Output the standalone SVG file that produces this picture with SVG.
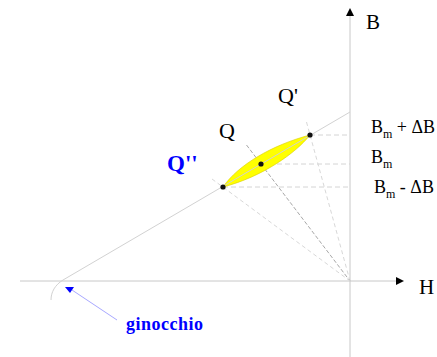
<svg xmlns="http://www.w3.org/2000/svg" width="437" height="357" viewBox="0 0 437 357">
<style>
.axis{stroke:#c8c8c8;stroke-width:1;fill:none}
.curve{stroke:#d2d2d2;stroke-width:1;fill:none}
.hd{stroke:#d4d4d4;stroke-width:1;stroke-dasharray:5,3;fill:none}
.rl{stroke:#d8d8d8;stroke-width:1;stroke-dasharray:4,3;fill:none}
.rd{stroke:#a8a8a8;stroke-width:1;stroke-dasharray:4,2;fill:none}
.lbl{font-family:"Liberation Serif","Times New Roman",serif;fill:#000}
.blue{fill:#0000ff;font-weight:bold}
</style>
<rect width="437" height="357" fill="#ffffff"/>
<g id="axes">
<line class="axis" x1="20" y1="281" x2="397" y2="281"/>
<polygon points="396,277 404,281 396,285" fill="#000"/>
<line class="axis" x1="350" y1="357" x2="350" y2="15"/>
<polygon points="346,16 350,8 354,16" fill="#000"/>
<text class="lbl" x="419" y="294" font-size="21">H</text>
<text class="lbl" x="366" y="29" font-size="21">B</text>
</g>
<g id="connectors">
<line class="hd" x1="310" y1="135" x2="350" y2="135"/>
<line class="hd" x1="261" y1="164" x2="350" y2="164"/>
<line class="hd" x1="223" y1="187" x2="350" y2="187"/>
<line class="rl" x1="306.5" y1="122" x2="350" y2="281"/>
<line class="rd" x1="246.5" y1="145" x2="350" y2="281"/>
<line class="rl" x1="212" y1="179" x2="350" y2="281"/>
<line x1="117" y1="320" x2="72" y2="290" stroke="#a8a8ff" stroke-width="1"/>
<polygon points="65,287 74,287 70,293" fill="#0000ff"/>
</g>
<g id="loop">
<path d="M223,187 C238,165 272,145 310,135 C296,153 262,177 223,187 Z" fill="#ffff00" stroke="#d8cc00" stroke-width="0.6"/>
</g>
<g id="curve">
<path class="curve" d="M51,300 C51,292 55,285 63,280 L350,112"/>
</g>
<g id="points">
<circle cx="223" cy="187" r="2.6" fill="#111"/>
<circle cx="261" cy="164" r="2.6" fill="#111"/>
<circle cx="310" cy="135" r="2.6" fill="#111"/>
</g>
<g id="labels">
<text class="lbl" x="219" y="138" font-size="22">Q</text>
<text class="lbl" x="278" y="103" font-size="22">Q'</text>
<text class="lbl blue" x="167" y="171" font-size="23">Q''</text>
<text class="lbl" x="371" y="133" font-size="18">B<tspan font-size="12" dy="5">m</tspan><tspan dy="-5"> + ΔB</tspan></text>
<text class="lbl" x="371" y="163" font-size="18">B<tspan font-size="12" dy="5">m</tspan></text>
<text class="lbl" x="374" y="193" font-size="18">B<tspan font-size="12" dy="5">m</tspan><tspan dy="-5"> - ΔB</tspan></text>
<text class="lbl blue" x="126" y="330" font-size="18" textLength="77" lengthAdjust="spacing">ginocchio</text>
</g>
</svg>
